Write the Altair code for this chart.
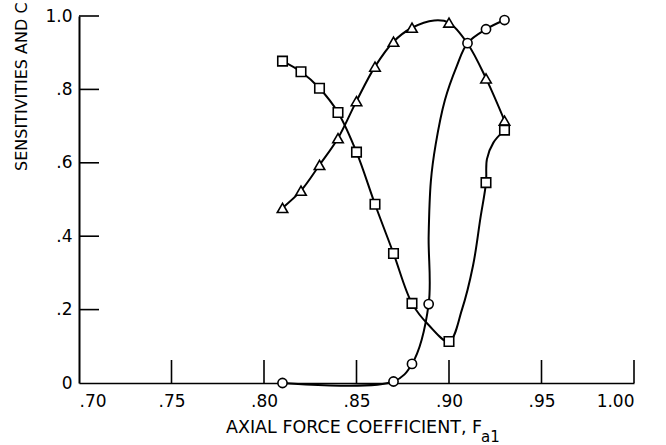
import altair as alt
import pandas as pd

# ---- marker values ----
tri_x = [0.81, 0.82, 0.83, 0.84, 0.85, 0.86, 0.87, 0.88, 0.90, 0.92, 0.93]
tri_y = [0.477, 0.524, 0.594, 0.667, 0.768, 0.862, 0.930, 0.968, 0.982, 0.830, 0.715]
sq_x = [0.81, 0.82, 0.83, 0.84, 0.85, 0.86, 0.87, 0.88, 0.90, 0.92, 0.93]
sq_y = [0.877, 0.848, 0.803, 0.737, 0.629, 0.487, 0.353, 0.217, 0.113, 0.546, 0.689]
circ_x = [0.81, 0.87, 0.88, 0.889, 0.91, 0.92, 0.93]
circ_y = [0.0, 0.004, 0.052, 0.215, 0.926, 0.964, 0.989]

# ---- faired curves ----
tri_path_x = [0.81, 0.82, 0.83, 0.84, 0.85, 0.86, 0.87, 0.88, 0.892, 0.90, 0.91, 0.92, 0.93]
tri_path_y = [0.477, 0.524, 0.594, 0.667, 0.768, 0.862, 0.930, 0.968, 0.988, 0.982, 0.925, 0.830, 0.715]
sq_path_x = [0.81, 0.82, 0.83, 0.84, 0.85, 0.86, 0.87, 0.88, 0.889, 0.90, 0.907, 0.913, 0.917, 0.92, 0.9205, 0.924, 0.93]
sq_path_y = [0.877, 0.848, 0.803, 0.737, 0.629, 0.487, 0.353, 0.217, 0.158, 0.113, 0.20, 0.32, 0.45, 0.546, 0.61, 0.655, 0.689]
circ_path_x = [0.81, 0.87, 0.88, 0.889, 0.889, 0.8902, 0.8928, 0.8978, 0.9041, 0.91, 0.92, 0.93]
circ_path_y = [0.0, 0.004, 0.052, 0.215, 0.40, 0.55, 0.65, 0.771, 0.862, 0.926, 0.964, 0.989]

# ---- axis ticks / labels ----
x_ticks = [0.70, 0.75, 0.80, 0.85, 0.90, 0.95, 1.00]
x_inner_ticks = [0.75, 0.80, 0.85, 0.90, 0.95, 1.00]
y_ticks = [0.0, 0.2, 0.4, 0.6, 0.8, 1.0]
y_inner_ticks = [0.2, 0.4, 0.6, 0.8, 1.0]

x_title = "AXIAL FORCE COEFFICIENT, F"
x_title_sub = "a1"
y_title = "SENSITIVITIES AND C"

FONT = "DejaVu Sans"
W, H = 555, 367

paths = []
for name, xs, ys in [("tri", tri_path_x, tri_path_y), ("sq", sq_path_x, sq_path_y), ("circ", circ_path_x, circ_path_y)]:
    for i, (a, b) in enumerate(zip(xs, ys)):
        paths.append({"series": name, "i": i, "x": a, "y": b})
paths = pd.DataFrame(paths)

tri = pd.DataFrame({"x": tri_x, "y": tri_y})
sq = pd.DataFrame({"x": sq_x, "y": sq_y})
circ = pd.DataFrame({"x": circ_x, "y": circ_y})

xscale = alt.Scale(domain=[0.70, 1.00], nice=False, zero=False)
yscale = alt.Scale(domain=[0.0, 1.0], nice=False)

x_axis = alt.Axis(
    values=x_ticks, title=None, grid=False, ticks=False, domain=True,
    domainColor="black", domainWidth=1.6, labelFont=FONT, labelFontSize=17,
    labelColor="black", labelPadding=10,
    labelExpr="datum.value < 1 ? substring(format(datum.value, '.2f'), 1) : format(datum.value, '.2f')",
)
y_axis = alt.Axis(
    values=y_ticks, title=None, grid=False, ticks=False, domain=True,
    domainColor="black", domainWidth=2, labelFont=FONT, labelFontSize=17,
    labelColor="black", labelPadding=7,
    labelExpr="datum.value == 0 ? '0' : (datum.value < 1 ? substring(format(datum.value, '.1f'), 1) : format(datum.value, '.1f'))",
)

base_x = alt.X("x:Q", scale=xscale, axis=x_axis)
base_y = alt.Y("y:Q", scale=yscale, axis=y_axis)

lines = alt.Chart(paths).mark_line(
    interpolate="catmull-rom", color="black", strokeWidth=2
).encode(x=base_x, y=base_y, detail="series:N", order="i:Q")

pt_style = dict(filled=True, fill="white", stroke="black", strokeWidth=1.6, opacity=1)
tri_pts = alt.Chart(tri).mark_point(shape="triangle-up", size=110, **pt_style).encode(x="x:Q", y="y:Q")
sq_pts = alt.Chart(sq).mark_point(shape="square", size=90, **pt_style).encode(x="x:Q", y="y:Q")
circ_pts = alt.Chart(circ).mark_point(shape="circle", size=85, **pt_style).encode(x="x:Q", y="y:Q")

ytick_rules = alt.Chart(pd.DataFrame({"y": y_inner_ticks})).mark_rule(
    color="black", strokeWidth=1.6
).encode(y="y:Q", x=alt.value(0), x2=alt.value(20))
xtick_rules = alt.Chart(pd.DataFrame({"x": x_inner_ticks})).mark_rule(
    color="black", strokeWidth=1.6
).encode(x="x:Q", y=alt.value(H), y2=alt.value(H - 23))

xt = alt.Chart(pd.DataFrame({"t": [x_title]})).mark_text(
    font=FONT, fontSize=17.5, align="left", baseline="alphabetic", color="black"
).encode(text="t:N", x=alt.value(147), y=alt.value(417))
xts = alt.Chart(pd.DataFrame({"t": [x_title_sub]})).mark_text(
    font=FONT, fontSize=15, align="left", baseline="alphabetic", color="black"
).encode(text="t:N", x=alt.value(402), y=alt.value(426))
yt = alt.Chart(pd.DataFrame({"t": [y_title]})).mark_text(
    font=FONT, fontSize=16, align="left", baseline="alphabetic", angle=270, color="black"
).encode(text="t:N", x=alt.value(-52), y=alt.value(155))

chart = alt.layer(
    lines, ytick_rules, xtick_rules, tri_pts, sq_pts, circ_pts, xt, xts, yt
).properties(
    width=W, height=H, autosize="none",
    padding={"left": 79, "top": 16, "right": 32, "bottom": 62},
    background="white",
).configure_view(stroke=None)

chart.save("out.html", embed_options={"renderer": "svg", "actions": False})
